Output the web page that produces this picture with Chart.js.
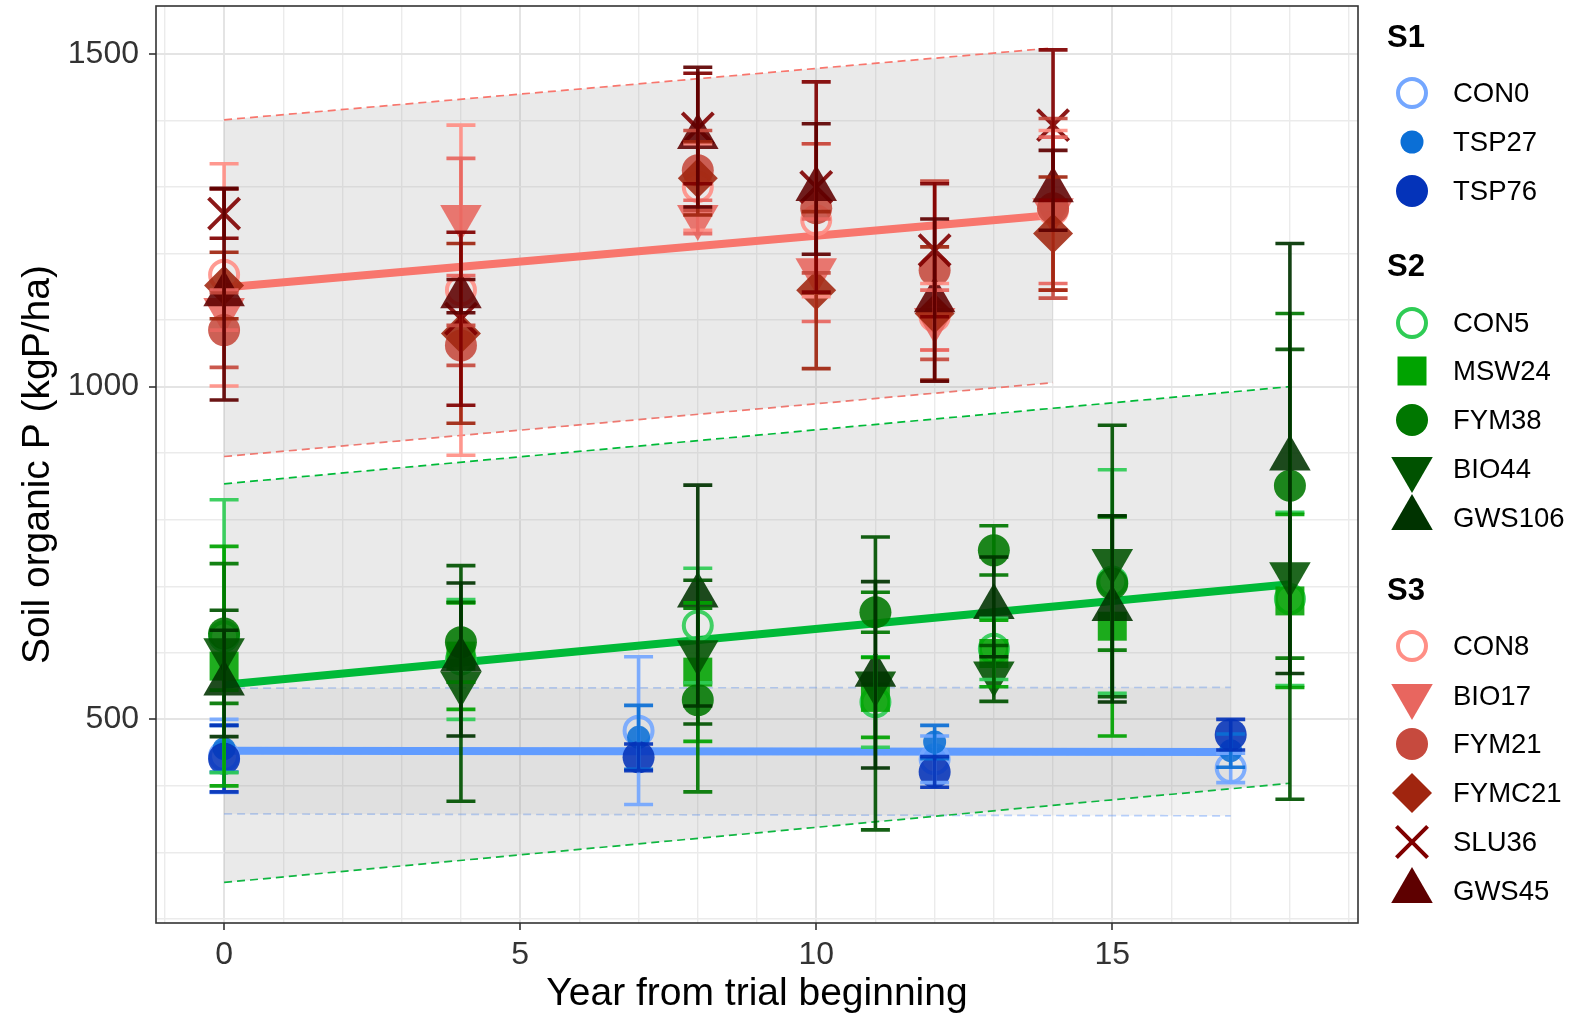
<!DOCTYPE html>
<html><head><meta charset="utf-8">
<script src="https://cdn.jsdelivr.net/npm/chart.js@4.4.1/dist/chart.umd.min.js"></script>
<style>
html,body{margin:0;padding:0;background:#fff;}
#wrap{position:relative;width:1590px;height:1015px;overflow:hidden;}
#c{position:absolute;left:0;top:0;}
.lg{position:absolute;font-family:"Liberation Sans",Arial,Helvetica,sans-serif;color:#000;line-height:1;transform:translateY(-50%);white-space:nowrap;}
.lt{font-weight:bold;font-size:31px;}
.li{font-size:27.5px;}
svg.sym{position:absolute;overflow:visible;}
</style></head>
<body><div id="wrap"><canvas id="c" width="1590" height="1015"></canvas><div id="legend"></div></div>
<script>
// ---------------- DATA ----------------
const S1_years = [0, 7, 12, 17];
const S2_years = [0, 4, 8, 11, 13, 15, 18];
const S3_years = [0, 4, 8, 10, 12, 14];

// S1
const CON0_mean  = [445, 483, 440, 427];
const CON0_sd    = [55, 111, 35, 22];
const TSP27_mean = [456, 473, 466, 453];
const TSP27_sd   = [35, 48, 25, 25];
const TSP76_mean = [441, 443, 421, 477];
const TSP76_sd   = [50, 20, 23, 23];

// S2
const CON5_mean   = [625, 590, 641, 526, 606, 707, 681];
const CON5_sd     = [205, 90, 86, 68, 46, 168, 130];
const MSW24_mean  = [580, 595, 571, 533, 599, 640, 678];
const MSW24_sd    = [180, 80, 104, 60, 50, 165, 130];
const FYM38_mean  = [629, 616, 529, 661, 754, 704, 851];
const FYM38_sd    = [105, 60, 138, 30, 37, 100, 259];
const BIO44_mean  = [604, 554, 601, 554, 569, 738, 718];
const BIO44_sd    = [60, 177, 108, 220, 42, 204, 338];
const GWS106_mean = [554, 590, 686, 567, 669, 666, 892];
const GWS106_sd   = [80, 115, 166, 140, 75, 140, 323];

// S3
const CON8_mean   = [1168, 1145, 1300, 1250, 1105, 1265];
const CON8_sd     = [167, 248, 65, 115, 50, 120];
const BIO17_mean  = [1115, 1255, 1255, 1175, 1100, 1265];
const BIO17_sd    = [30, 88, 25, 77, 45, 110];
const FYM21_mean  = [1085, 1062, 1325, 1268, 1175, 1268];
const FYM21_sd    = [56, 30, 60, 97, 134, 135];
const FYMC21_mean = [1152, 1080, 1313, 1145, 1110, 1230];
const FYMC21_sd   = [50, 135, 55, 118, 100, 85];
const SLU36_mean  = [1260, 1102, 1388, 1300, 1205, 1393];
const SLU36_sd    = [37, 130, 83, 158, 100, 113];
const GWS45_mean  = [1139, 1136, 1375, 1297, 1130, 1295];
const GWS45_sd    = [159, 25, 105, 98, 122, 60];

// regression fits and prediction bands (values at first and last year)
const S1_fit_x = [0, 17];  const S1_fit = [453, 451];   const S1_upper = [547, 548];   const S1_lower = [358, 355];
const S2_fit_x = [0, 18];  const S2_fit = [552, 703];   const S2_upper = [854, 1000];  const S2_lower = [255, 404];
const S3_fit_x = [0, 14];  const S3_fit = [1149, 1258]; const S3_upper = [1401, 1509]; const S3_lower = [895, 1006];

// axes
const xTickLabels = [0, 5, 10, 15];
const yTickLabels = [500, 1000, 1500];
const xGridValues = [-1,0,1,2,3,4,5,6,7,8,9,10,11,12,13,14,15,16,17,18,19];
const yGridValues = [200,300,400,500,600,700,800,900,1000,1100,1200,1300,1400,1500];

// ---------------- STYLE ----------------
const FONT = '"Liberation Sans", Arial, Helvetica, sans-serif';
const treatments = [
  {name:'CON0',  years:S1_years, mean:CON0_mean,  sd:CON0_sd,  color:'#74a7ff', shape:'ring'},
  {name:'TSP27', years:S1_years, mean:TSP27_mean, sd:TSP27_sd, color:'#0b6fd6', shape:'dotS'},
  {name:'TSP76', years:S1_years, mean:TSP76_mean, sd:TSP76_sd, color:'#0433b9', shape:'dot'},
  {name:'CON5',  years:S2_years, mean:CON5_mean,  sd:CON5_sd,  color:'#2fcc55', shape:'ring'},
  {name:'MSW24', years:S2_years, mean:MSW24_mean, sd:MSW24_sd, color:'#00a300', shape:'square'},
  {name:'FYM38', years:S2_years, mean:FYM38_mean, sd:FYM38_sd, color:'#007700', shape:'dot'},
  {name:'BIO44', years:S2_years, mean:BIO44_mean, sd:BIO44_sd, color:'#005200', shape:'triDown'},
  {name:'GWS106',years:S2_years, mean:GWS106_mean,sd:GWS106_sd,color:'#003300', shape:'triUp'},
  {name:'CON8',  years:S3_years, mean:CON8_mean,  sd:CON8_sd,  color:'#ff8f86', shape:'ring'},
  {name:'BIO17', years:S3_years, mean:BIO17_mean, sd:BIO17_sd, color:'#e8665f', shape:'triDown'},
  {name:'FYM21', years:S3_years, mean:FYM21_mean, sd:FYM21_sd, color:'#c64a3e', shape:'dot'},
  {name:'FYMC21',years:S3_years, mean:FYMC21_mean,sd:FYMC21_sd,color:'#a0250f', shape:'diamond'},
  {name:'SLU36', years:S3_years, mean:SLU36_mean, sd:SLU36_sd, color:'#800000', shape:'cross'},
  {name:'GWS45', years:S3_years, mean:GWS45_mean, sd:GWS45_sd, color:'#5e0000', shape:'triUp'}
];
const shapeStyle = {
  ring:    {pointStyle:'circle',  radius:14,  fill:false, bw:4, rot:0},
  dotS:    {pointStyle:'circle',  radius:11.5,fill:true,  bw:0, rot:0},
  dot:     {pointStyle:'circle',  radius:16,  fill:true,  bw:0, rot:0},
  square:  {pointStyle:'rect',    radius:20.5,fill:true,  bw:0, rot:0},
  diamond: {pointStyle:'rectRot', radius:20,  fill:true,  bw:0, rot:0},
  triUp:   {pointStyle:'triangle',radius:24,  fill:true,  bw:0, rot:0},
  triDown: {pointStyle:'triangle',radius:24,  fill:true,  bw:0, rot:180},
  cross:   {pointStyle:'crossRot',radius:22,  fill:false, bw:4, rot:0}
};
function rgba(hex, a){const n=parseInt(hex.slice(1),16);return `rgba(${n>>16&255},${n>>8&255},${n&255},${a})`;}

const systems = [
  {fx:S1_fit_x, fit:S1_fit, up:S1_upper, lo:S1_lower, color:'#619cff', dash:'rgba(97,156,255,0.45)', band:'rgba(150,150,150,0.12)'},
  {fx:S2_fit_x, fit:S2_fit, up:S2_upper, lo:S2_lower, color:'#00ba38', dash:'#00ba38', band:'rgba(150,150,150,0.2)'},
  {fx:S3_fit_x, fit:S3_fit, up:S3_upper, lo:S3_lower, color:'#f8766d', dash:'#f8766d', band:'rgba(150,150,150,0.2)'}
];

// ---------------- DATASETS ----------------
const datasets = [];
systems.forEach((s, k) => {
  datasets.push({type:'line', data:s.fx.map((x,i)=>({x, y:s.up[i]})), borderColor:s.dash, borderWidth:1.7, borderDash:[8,5],
    pointRadius:0, fill:'+1', backgroundColor:s.band, order:1000-k});
  datasets.push({type:'line', data:s.fx.map((x,i)=>({x, y:s.lo[i]})), borderColor:s.dash, borderWidth:1.7, borderDash:[8,5],
    pointRadius:0, fill:false, order:1000-k});
});
systems.forEach((s, k) => {
  datasets.push({type:'line', data:s.fx.map((x,i)=>({x, y:s.fit[i]})), borderColor:s.color, borderWidth:8,
    pointRadius:0, fill:false, order:500-k, borderCapStyle:'butt'});
});
treatments.forEach((t, k) => {
  const st = shapeStyle[t.shape];
  const pts = [];
  t.years.forEach((x,i)=>{ if (t.mean[i] != null) pts.push({x, y:t.mean[i]}); });
  datasets.push({type:'scatter', label:t.name, data:pts, showLine:false,
    pointStyle:st.pointStyle, pointRadius:st.radius, pointRotation:st.rot,
    pointBackgroundColor: st.fill ? rgba(t.color,0.88) : 'rgba(0,0,0,0)',
    pointBorderColor: st.bw ? rgba(t.color,0.9) : 'rgba(0,0,0,0)',
    pointBorderWidth: st.bw, order:100-k});
});

// ---------------- PLUGINS ----------------
const errorBars = {
  id:'errorBars',
  afterDatasetsDraw(chart){
    const {ctx, chartArea:a, scales:{x, y}} = chart;
    ctx.save();
    ctx.beginPath(); ctx.rect(a.left, a.top, a.right-a.left, a.bottom-a.top); ctx.clip();
    ctx.lineCap = 'butt';
    treatments.forEach(t => {
      ctx.strokeStyle = rgba(t.color, 0.92);
      ctx.lineWidth = 3.6;
      t.years.forEach((yr,i) => {
        if (t.mean[i] == null) return;
        const px = x.getPixelForValue(yr);
        const pt = y.getPixelForValue(t.mean[i] + t.sd[i]);
        const pb = y.getPixelForValue(t.mean[i] - t.sd[i]);
        ctx.beginPath();
        ctx.moveTo(px, pt); ctx.lineTo(px, pb);
        ctx.moveTo(px-14.5, pt); ctx.lineTo(px+14.5, pt);
        ctx.moveTo(px-14.5, pb); ctx.lineTo(px+14.5, pb);
        ctx.stroke();
      });
    });
    ctx.restore();
  }
};
const panelBorder = {
  id:'panelBorder',
  afterDraw(chart){
    const {ctx, chartArea:a} = chart;
    ctx.save(); ctx.strokeStyle = '#333333'; ctx.lineWidth = 1.6;
    ctx.strokeRect(a.left, a.top, a.right-a.left, a.bottom-a.top);
    ctx.restore();
  }
};

// ---------------- CHART ----------------
new Chart(document.getElementById('c'), {
  data:{datasets},
  plugins:[errorBars, panelBorder],
  options:{
    responsive:false, animation:false, events:[], devicePixelRatio:1,
    layout:{autoPadding:false, padding:{top:6, right:232, left:0, bottom:0}},
    plugins:{legend:{display:false}, tooltip:{enabled:false}},
    scales:{
      x:{type:'linear', min:-1.15, max:19.15,
        afterBuildTicks: s => { s.ticks = xGridValues.map(v => ({value:v})); },
        afterFit: s => { s.height = 92; s.paddingLeft = 0; s.paddingRight = 0; },
        ticks:{autoSkip:false, maxRotation:0, color:'#333333', font:{family:FONT, size:32}, padding:6,
          callback: v => xTickLabels.includes(v) ? String(v) : ''},
        grid:{color: c => (c.tick && xTickLabels.includes(c.tick.value)) ? '#e4e4e4' : '#ebebeb',
              lineWidth: c => (c.tick && xTickLabels.includes(c.tick.value)) ? 2 : 1.4,
              tickColor: c => (c.tick && xTickLabels.includes(c.tick.value)) ? '#333333' : 'rgba(0,0,0,0)',
              tickLength:7, tickWidth:1.6},
        border:{display:false},
        title:{display:true, text:'Year from trial beginning', color:'#000', font:{family:FONT, size:39, lineHeight:1}, padding:{top:0, bottom:1}}
      },
      y:{type:'linear', min:194, max:1572,
        afterBuildTicks: s => { s.ticks = yGridValues.map(v => ({value:v})); },
        afterFit: s => { s.width = 156; s.paddingTop = 0; s.paddingBottom = 0; },
        ticks:{autoSkip:false, color:'#333333', font:{family:FONT, size:32}, padding:10,
          callback: v => yTickLabels.includes(v) ? String(v) : ''},
        grid:{color: c => (c.tick && yTickLabels.includes(c.tick.value)) ? '#e4e4e4' : '#ebebeb',
              lineWidth: c => (c.tick && yTickLabels.includes(c.tick.value)) ? 2 : 1.4,
              tickColor: c => (c.tick && yTickLabels.includes(c.tick.value)) ? '#333333' : 'rgba(0,0,0,0)',
              tickLength:7, tickWidth:1.6},
        border:{display:false},
        title:{display:true, text:'Soil organic P (kgP/ha)', color:'#000', font:{family:FONT, size:39, lineHeight:1}, padding:{top:19, bottom:0}}
      }
    }
  }
});

// ---------------- LEGEND (HTML) ----------------
const legendGroups = [
  {title:'S1', titleY:35.5, items:['CON0','TSP27','TSP76'], itemY:[93,142,191]},
  {title:'S2', titleY:265,  items:['CON5','MSW24','FYM38','BIO44','GWS106'], itemY:[322.5,371,420,468.5,518]},
  {title:'S3', titleY:589,  items:['CON8','BIO17','FYM21','FYMC21','SLU36','GWS45'], itemY:[646,695.5,744,793,842,891]}
];
function symbolSVG(t){
  const st = shapeStyle[t.shape], c = t.color, r = st.radius;
  let inner = '';
  switch(t.shape){
    case 'ring': inner = `<circle cx="0" cy="0" r="${r}" fill="none" stroke="${c}" stroke-width="${st.bw}"/>`; break;
    case 'dotS': case 'dot': inner = `<circle cx="0" cy="0" r="${r}" fill="${c}"/>`; break;
    case 'square': {const h = r*Math.SQRT1_2; inner = `<rect x="${-h}" y="${-h}" width="${2*h}" height="${2*h}" fill="${c}"/>`; break;}
    case 'diamond': inner = `<polygon points="0,${-r} ${r},0 0,${r} ${-r},0" fill="${c}"/>`; break;
    case 'triUp': {const w = r*Math.sqrt(3)/2; inner = `<polygon points="0,${-r} ${w},${r/2} ${-w},${r/2}" fill="${c}"/>`; break;}
    case 'triDown': {const w = r*Math.sqrt(3)/2; inner = `<polygon points="0,${r} ${w},${-r/2} ${-w},${-r/2}" fill="${c}"/>`; break;}
    case 'cross': {const d = r*Math.SQRT1_2; inner = `<path d="M${-d},${-d}L${d},${d}M${-d},${d}L${d},${-d}" stroke="${c}" stroke-width="${st.bw}"/>`; break;}
  }
  return inner;
}
const lg = document.getElementById('legend');
let html = '';
legendGroups.forEach(g => {
  html += `<div class="lg lt" style="left:1387px;top:${g.titleY}px">${g.title}</div>`;
  g.items.forEach((name, i) => {
    const t = treatments.find(tt => tt.name === name);
    const cy = g.itemY[i];
    html += `<svg class="sym" width="60" height="60" style="left:${1411.5-30}px;top:${cy-30}px" viewBox="-30 -30 60 60">${symbolSVG(t)}</svg>`;
    html += `<div class="lg li" style="left:1453px;top:${cy}px">${name}</div>`;
  });
});
lg.innerHTML = html;
</script>
</body></html>
